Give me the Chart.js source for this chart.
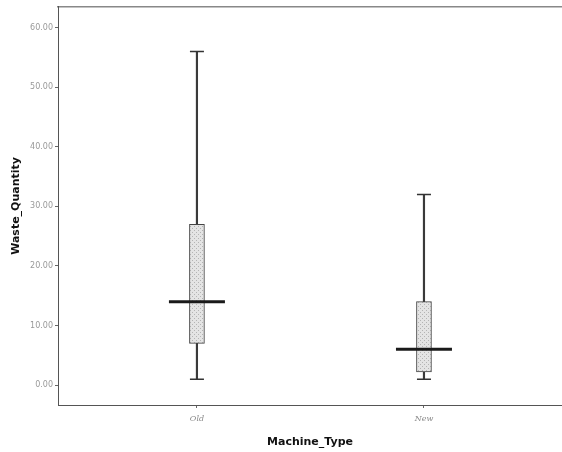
<!DOCTYPE html>
<html>
<head>
<meta charset="utf-8">
<script src="https://cdn.jsdelivr.net/npm/chart.js@4.4.1/dist/chart.umd.min.js"></script>
<style>
  html, body { margin: 0; padding: 0; background: #fff; }
  #chart { display: block; }
</style>
</head>
<body>
<canvas id="chart" width="562" height="452"></canvas>
<script>
// box plot summary per machine type
var categories = ['Old', 'New'];
var mins = [1.0, 1.0];
var q1s = [7.0, 2.2];
var medians = [14.0, 6.0];
var q3s = [27.0, 14.0];
var maxs = [56.0, 32.0];
var yTicks = [0, 10, 20, 30, 40, 50, 60];

// light stippled fill like the scanned boxes
function stipple() {
    var c = document.createElement('canvas');
    c.width = 4; c.height = 4;
    var g = c.getContext('2d');
    g.fillStyle = '#e4e4e4';
    g.fillRect(0, 0, 4, 4);
    g.fillStyle = '#b4b4b4';
    g.fillRect(0, 0, 1, 1);
    g.fillRect(2, 2, 1, 1);
    return g.createPattern(c, 'repeat');
}

var xs = categories.map(function (c, i) { return i; });
var whiskers = xs.map(function (x, i) { return { x: x, y: [mins[i], maxs[i]] }; });
var boxes = xs.map(function (x, i) { return { x: x, y: [q1s[i], q3s[i]] }; });
var medPts = xs.map(function (x, i) { return { x: x, y: medians[i] }; });
var capPts = [];
xs.forEach(function (x, i) {
    capPts.push({ x: x, y: mins[i] });
    capPts.push({ x: x, y: maxs[i] });
});

var ctx = document.getElementById('chart').getContext('2d');
var chart = new Chart(ctx, {
    type: 'bar',
    data: {
        datasets: [
            {
                type: 'scatter',
                data: medPts,
                pointStyle: 'line',
                pointRadius: 28,
                borderWidth: 3,
                borderColor: '#1a1a1a',
                order: 0
            },
            {
                data: boxes,
                backgroundColor: stipple(),
                borderColor: '#444',
                borderWidth: 1,
                borderSkipped: false,
                barThickness: 15,
                grouped: false,
                order: 1
            },
            {
                type: 'scatter',
                data: capPts,
                pointStyle: 'line',
                pointRadius: 7,
                borderWidth: 1.5,
                borderColor: '#333',
                order: 2
            },
            {
                data: whiskers,
                backgroundColor: '#3a3a3a',
                borderWidth: 0,
                barThickness: 1.5,
                grouped: false,
                order: 3
            }
        ]
    },
    options: {
        responsive: false,
        animation: false,
        layout: { autoPadding: false, padding: 0 },
        plugins: {
            legend: { display: false },
            tooltip: { enabled: false }
        },
        scales: {
            x: {
                type: 'linear',
                min: -0.612,
                max: 1.608,
                offset: false,
                afterFit: function (s) { s.height = 47; },
                afterBuildTicks: function (s) {
                    s.ticks = xs.map(function (v) { return { value: v }; });
                },
                grid: { display: true, offset: false, drawOnChartArea: false, tickLength: 3, color: '#666' },
                border: { display: true, color: '#555', dash: [2, 2], width: 1 },
                ticks: {
                    padding: 6,
                    font: { family: 'DejaVu Serif', size: 8, style: 'italic' },
                    color: '#888',
                    callback: function (v) { return categories[v]; }
                },
                title: {
                    display: true,
                    text: 'Machine_Type',
                    font: { family: 'DejaVu Sans', size: 11, weight: 'bold' },
                    color: '#111',
                    padding: { top: 3, bottom: 3 }
                }
            },
            xTop: {
                type: 'linear',
                position: 'top',
                min: 0,
                max: 1,
                afterFit: function (s) { s.height = 5; },
                grid: { display: false },
                ticks: { display: false },
                border: { display: true, color: '#888', width: 1.5 }
            },
            y: {
                min: -3.34,
                max: 63.5,
                afterFit: function (s) { s.width = 58; },
                afterBuildTicks: function (s) {
                    s.ticks = yTicks.map(function (v) { return { value: v }; });
                },
                grid: { display: true, drawOnChartArea: false, tickLength: 3, color: '#666' },
                border: { display: true, color: '#555', dash: [2, 2], width: 1 },
                ticks: {
                    padding: 2,
                    font: { family: 'DejaVu Sans', size: 8 },
                    color: '#999',
                    callback: function (v) { return v.toFixed(2); }
                },
                title: {
                    display: true,
                    text: 'Waste_Quantity',
                    font: { family: 'DejaVu Sans', size: 11, weight: 'bold' },
                    color: '#111',
                    padding: { top: 10, bottom: 0 }
                }
            }
        }
    }
});
</script>
</body>
</html>
